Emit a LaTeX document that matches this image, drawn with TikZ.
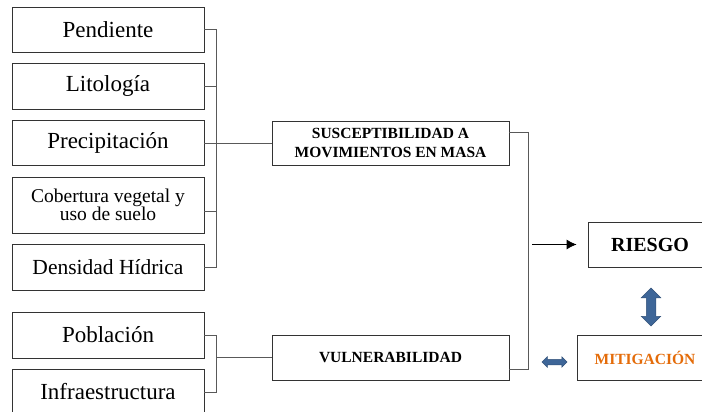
\documentclass[tikz,border=0pt]{standalone}
\usepackage{fontspec}
\setmainfont{Liberation Serif}
\usetikzlibrary{shapes.arrows, arrows.meta}
\definecolor{flecha}{RGB}{62,102,152}
\definecolor{naranja}{RGB}{228,108,10}

\begin{document}
\begin{tikzpicture}[x=1pt, y=-1pt,
factor/.style={draw=black!80, line width=0.8pt, minimum width=192pt,
minimum height=45pt, inner sep=0pt, font=\fontsize{23}{25}\selectfont},
bloque/.style={draw=black!80, line width=0.8pt, minimum width=237pt,
minimum height=44pt, inner sep=0pt, align=center,
font=\bfseries\fontsize{15.5}{18.3}\selectfont},
linea/.style={draw=black!65, line width=0.8pt},
doble/.style={double arrow, fill=flecha, draw=flecha!80!black,
line width=0.5pt, inner xsep=0pt}
]
\useasboundingbox (0,0) rectangle (702,412);

\node[factor] (pend) at (108,29.5) {Pendiente};
\node[factor, minimum height=46pt] (lito) at (108,86) {Litología};
\node[factor] (prec) at (108,143) {Precipitación};
\node[factor, minimum height=56pt, align=center,
font=\fontsize{19.5}{18.3}\selectfont] (cob) at (108,205)
{Cobertura vegetal y\\uso de suelo};
\node[factor, minimum height=46pt, font=\fontsize{21.5}{24}\selectfont]
(dens) at (108,267) {Densidad Hídrica};
\node[factor, minimum height=46pt] (pob) at (108,335) {Población};
\node[factor, minimum height=46pt] (infra) at (108,392) {Infraestructura};

\node[bloque] (susc) at (390.5,143) {SUSCEPTIBILIDAD A\\MOVIMIENTOS EN MASA};
\node[bloque, minimum height=45pt] (vuln) at (390.5,357.5) {VULNERABILIDAD};
\node[bloque, minimum width=124pt, minimum height=45pt,
font=\bfseries\fontsize{20}{22}\selectfont] (riesgo) at (650,244.5) {RIESGO};
\node[bloque, minimum width=136pt, minimum height=45pt, text=naranja]
(mitig) at (645,357.5) {MITIGACIÓN};

\draw[linea] (pend.east) -- ++(12,0) |- (dens.east);
\draw[linea] (lito.east) -- ++(12,0);
\draw[linea] ([yshift=-6pt]cob.east) -- ++(12,0);
\draw[linea] (prec.east) -- (susc.west);

\draw[linea] (pob.east) -- ++(12,0) |- (infra.east);
\draw[linea] (vuln.west) -- ++(-56,0);

\draw[linea] ([yshift=11pt]susc.east) -- ++(19,0) |- ([yshift=-11.5pt]vuln.east);

\coordinate (nodo) at (532,244.5);
\draw[line width=0.8pt, -{Latex[length=10pt,width=10pt]}, shorten >=11pt]
(nodo) -- (riesgo.west);

\node[doble, rotate=90, inner ysep=4.5pt, double arrow head extend=5pt,
minimum width=19pt, minimum height=38pt] (flechav) at (651,307) {};
\node[doble, inner ysep=2.5pt, double arrow head extend=2.5pt,
minimum width=10pt, minimum height=25pt] (flechah) at (554.5,362) {};
\end{tikzpicture}
\end{document}
